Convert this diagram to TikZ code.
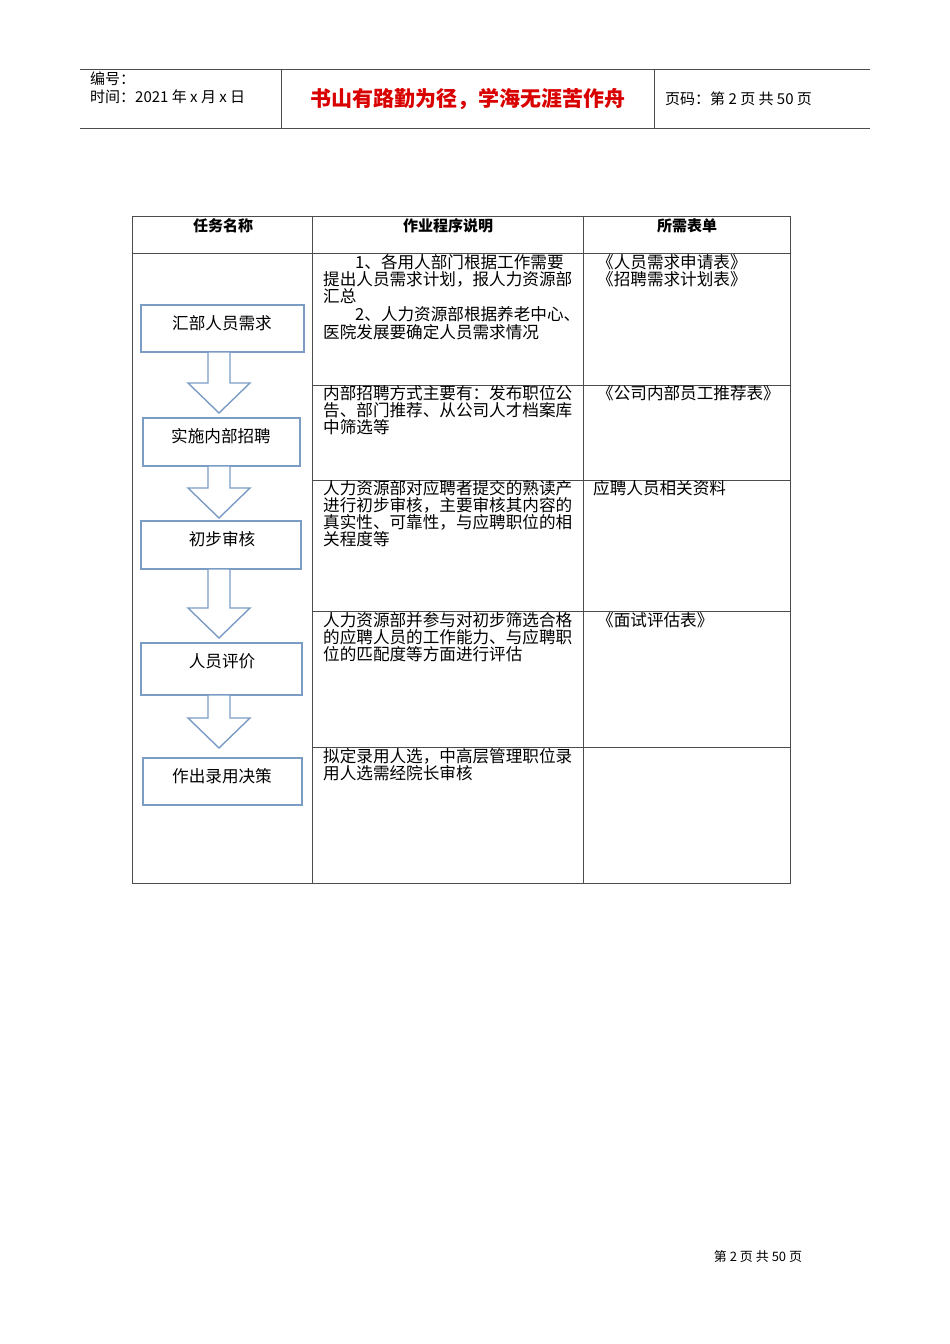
\documentclass[tikz,border=0pt]{standalone}
\usepackage{fontspec}
\setmainfont{Noto Sans CJK SC}
\definecolor{steel}{HTML}{7B9CC4}
\begin{document}
\begin{tikzpicture}[x=1pt,y=-1pt,
  tline/.style={draw=black!70,line width=0.8pt},
  fbox/.style={draw=steel,line width=1.6pt},
  barrow/.style={draw=steel,line width=1.4pt,fill=white,line join=miter},
  txt/.style={anchor=base west,inner sep=0pt,font=\fontsize{16.6}{17}\selectfont},
  hdr/.style={anchor=center,inner sep=0pt,font=\fontsize{15}{17}\selectfont\bfseries}]
\useasboundingbox (0,0) rectangle (950,1344);
% header
\draw[tline] (80,69) -- (870,69) (80,128) -- (870,128) (281,69) -- (281,128) (654,69) -- (654,128);
\node[txt,font=\fontsize{15}{17}\selectfont] (h1) at (90,84) {编号：};
\node[txt,font=\fontsize{15}{17}\selectfont] (h2) at (90,102) {时间：2021 年 x 月 x 日};
\node[anchor=center,inner sep=0pt,text=red!85!black,font=\fontsize{21}{22}\selectfont\bfseries] (h3) at (468,99) {书山有路勤为径，学海无涯苦作舟};
\node[txt,font=\fontsize{15}{17}\selectfont] (h4) at (665,104) {页码：第 2 页 共 50 页};
% table
\draw[tline] (132,216) rectangle (790,883);
\draw[tline] (312,216) -- (312,883) (583,216) -- (583,883) (132,253) -- (790,253);
\foreach \y in {385,480,611,747} \draw[tline] (312,\y) -- (790,\y);
\node[hdr] (c1) at (223,226) {任务名称};
\node[hdr] (c2) at (448,226) {作业程序说明};
\node[hdr] (c3) at (687,226) {所需表单};
% boxes
\draw[fbox] (141,305) rectangle (304,352); \node[txt,anchor=center] (b1) at (222,323) {汇部人员需求};
\draw[fbox] (143,418) rectangle (300,466); \node[txt,anchor=center] (b2) at (221,436) {实施内部招聘};
\draw[fbox] (141,521) rectangle (301,569); \node[txt,anchor=center] (b3) at (222,539) {初步审核};
\draw[fbox] (141,643) rectangle (302,695); \node[txt,anchor=center] (b4) at (222,661) {人员评价};
\draw[fbox] (143,758) rectangle (302,805); \node[txt,anchor=center] (b5) at (222,776) {作出录用决策};
% arrows
\foreach \a/\b in {352/413,466/518,569/638,695/748}{
  \pgfmathsetmacro\m{\b-30}
  \draw[barrow] (208,\a) -- (230,\a) -- (230,\m) -- (250,\m) -- (219,\b) -- (188,\m) -- (208,\m) -- cycle;
}
% column 2
\node[txt] (t1) at (355,268) {1、各用人部门根据工作需要};
\node[txt] (t2) at (323,285) {提出人员需求计划，报人力资源部};
\node[txt] (t3) at (323,302) {汇总};
\node[txt] (t4) at (355,320) {2、人力资源部根据养老中心、};
\node[txt] (t5) at (323,338) {医院发展要确定人员需求情况};
\node[txt] (t6) at (323,399) {内部招聘方式主要有：发布职位公};
\node[txt] (t7) at (323,416) {告、部门推荐、从公司人才档案库};
\node[txt] (t8) at (323,433) {中筛选等};
\node[txt] (t9) at (323,494) {人力资源部对应聘者提交的熟读产};
\node[txt] (t10) at (323,511) {进行初步审核，主要审核其内容的};
\node[txt] (t11) at (323,528) {真实性、可靠性，与应聘职位的相};
\node[txt] (t12) at (323,545) {关程度等};
\node[txt] (t13) at (323,626) {人力资源部并参与对初步筛选合格};
\node[txt] (t14) at (323,643) {的应聘人员的工作能力、与应聘职};
\node[txt] (t15) at (323,660) {位的匹配度等方面进行评估};
\node[txt] (t16) at (323,762) {拟定录用人选，中高层管理职位录};
\node[txt] (t17) at (323,779) {用人选需经院长审核};
% column 3
\node[txt] (f1) at (597,268) {《人员需求申请表》};
\node[txt] (f2) at (597,285) {《招聘需求计划表》};
\node[txt] (f3) at (597,399) {《公司内部员工推荐表》};
\node[txt] (f4) at (593,494) {应聘人员相关资料};
\node[txt] (f5) at (597,626) {《面试评估表》};
% footer
\node[anchor=center,inner sep=0pt,font=\fontsize{13}{15}\selectfont] (ft) at (758,1257) {第 2 页 共 50 页};
\end{tikzpicture}
\end{document}
